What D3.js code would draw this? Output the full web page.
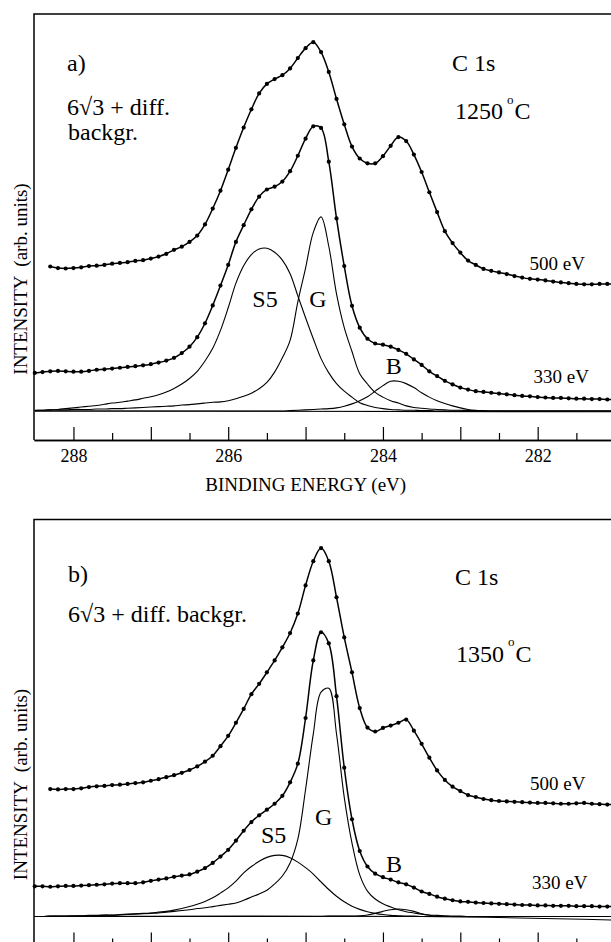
<!DOCTYPE html>
<html>
<head>
<meta charset="utf-8">
<script src="https://cdnjs.cloudflare.com/ajax/libs/d3/7.8.5/d3.min.js"></script>
<style>
  body { margin: 0; background: #fff; }
  svg { display: block; background: #fff; }
  text { font-family: "Liberation Serif", "Times New Roman", serif; fill: #000; }
  .frame { fill: none; stroke: #000; stroke-width: 1.5; }
  .curve { fill: none; stroke: #000; stroke-width: 1.5; }
  .fit { fill: none; stroke: #000; stroke-width: 1.1; }
  .dot { fill: #000; }
</style>
</head>
<body>
<div id="chart"></div>
<script>
//C 1s core level spectra, two annealing temperatures, two photon energies each

// binding energy of every sampled point (eV)
var energy = [
  288.5, 288.4, 288.3, 288.2, 288.1, 288.0, 287.9, 287.8, 287.7, 287.6,
  287.5, 287.4, 287.3, 287.2, 287.1, 287.0, 286.9, 286.8, 286.7, 286.6,
  286.5, 286.4, 286.3, 286.2, 286.1, 286.0, 285.9, 285.8, 285.7, 285.6,
  285.5, 285.4, 285.3, 285.2, 285.1, 285.0, 284.9, 284.8, 284.7, 284.6,
  284.5, 284.4, 284.3, 284.2, 284.1, 284.0, 283.9, 283.8, 283.7, 283.6,
  283.5, 283.4, 283.3, 283.2, 283.1, 283.0, 282.9, 282.8, 282.7, 282.6,
  282.5, 282.4, 282.3, 282.2, 282.1, 282.0, 281.9, 281.8, 281.7, 281.6,
  281.5, 281.4, 281.3, 281.2, 281.1, 281.0
];

// a) 1250 C
var a500 = [
  null, null, 36.4, 36.0, 35.9, 36.0, 36.2, 36.5, 36.6, 36.8,
  37.1, 37.3, 37.5, 37.8, 38.0, 38.4, 38.9, 39.6, 40.6, 41.4,
  42.6, 44.2, 47.0, 51.0, 55.5, 60.8, 66.3, 71.4, 76.0, 80.0,
  82.4, 83.6, 84.6, 86.3, 88.9, 91.4, 92.9, 90.4, 85.4, 78.6,
  72.2, 66.6, 63.6, 62.4, 62.4, 64.2, 66.8, 69.0, 68.0, 64.6,
  60.2, 55.1, 50.1, 45.3, 42.3, 39.9, 37.9, 36.8, 35.8, 35.3,
  34.9, 34.5, 34.0, 33.6, 33.3, 33.1, 32.9, 32.6, 32.4, 32.2,
  32.0, 31.9, 31.9, 32.0, 32.0, 32.0
];
var a330 = [
  9.6, 9.8, 10.0, 10.1, 10.0, 9.9, 9.9, 10.1, 10.4, 10.5,
  10.7, 10.9, 11.1, 11.3, 11.5, 11.8, 12.2, 12.7, 13.4, 14.6,
  16.2, 18.6, 22.1, 26.6, 31.6, 36.8, 42.6, 46.8, 50.8, 54.0,
  55.8, 56.5, 57.8, 60.4, 64.3, 68.6, 71.7, 71.3, 62.8, 48.5,
  36.5, 26.5, 21.0, 18.2, 17.0, 16.7, 16.2, 15.4, 14.4, 13.0,
  11.6, 10.0, 8.8, 7.6, 6.7, 5.9, 5.4, 5.0, 4.8, 4.6,
  4.4, 4.2, 4.0, 3.8, 3.7, 3.5, 3.4, 3.3, 3.3, 3.2,
  3.1, 3.1, 3.0, 3.0, 2.9, 2.9
];
var aS5 = [
  0.1, 0.2, 0.3, 0.4, 0.6, 0.8, 1.0, 1.2, 1.4, 1.7,
  2.0, 2.2, 2.5, 2.8, 3.2, 3.6, 4.1, 4.8, 5.7, 6.8,
  8.2, 10.0, 12.6, 15.8, 20.3, 26.0, 32.2, 36.6, 39.4, 40.8,
  41.0, 40.0, 38.0, 34.6, 29.0, 23.5, 18.2, 13.2, 9.6, 6.9,
  5.0, 3.5, 2.1, 1.4, 0.9, 0.6, 0.4, 0.3, 0.2, 0.2,
  0.1, 0.1, 0, 0, 0, 0, 0, 0, 0, 0,
  0, 0, 0, 0, 0, 0, 0, 0, 0, 0,
  0, 0, 0, 0, 0, 0
];
var aG = [
  0.2, 0.2, 0.3, 0.3, 0.3, 0.4, 0.4, 0.4, 0.5, 0.5,
  0.6, 0.6, 0.7, 0.8, 0.9, 1.0, 1.1, 1.2, 1.3, 1.5,
  1.6, 1.8, 2.0, 2.2, 2.3, 2.6, 3.1, 3.7, 4.5, 5.6,
  7.2, 9.8, 13.4, 17.8, 27.5, 36.0, 45.0, 48.9, 41.5, 29.5,
  21.0, 15.0, 9.4, 6.8, 4.7, 3.5, 2.6, 2.0, 1.3, 0.9,
  0.7, 0.5, 0.4, 0.3, 0.2, 0.2, 0.1, 0.1, 0, 0,
  0, 0, 0, 0, 0, 0, 0, 0, 0, 0,
  0, 0, 0, 0, 0, 0
];
var aB = [
  0, 0, 0, 0, 0, 0, 0, 0, 0, 0,
  0, 0, 0, 0, 0, 0, 0, 0, 0, 0,
  0, 0, 0, 0, 0, 0, 0, 0, 0, 0,
  0, 0, 0, 0.1, 0.2, 0.3, 0.4, 0.5, 0.6, 0.8,
  1.2, 1.8, 2.6, 3.6, 5.0, 6.4, 7.5, 7.5, 6.9, 5.9,
  4.6, 3.5, 2.6, 1.9, 1.3, 0.8, 0.4, 0.2, 0.1, 0,
  0, 0, 0, 0, 0, 0, 0, 0, 0, 0,
  0, 0, 0, 0, 0, 0
];
// flat background under the fitted components
var aBgEnergy = [288.5, 281.0];
var aBackground = [0, -0.2];

// b) 1350 C
var b500 = [
  null, null, 32.1, 32.0, 32.1, 32.1, 32.3, 32.6, 32.8, 32.9,
  33.1, 33.2, 33.4, 33.6, 33.8, 34.2, 34.6, 35.1, 35.6, 36.2,
  36.9, 37.8, 39.0, 40.5, 42.9, 45.5, 48.8, 52.3, 56.0, 58.6,
  61.5, 64.5, 67.8, 71.4, 76.3, 83.4, 89.5, 92.8, 89.5, 80.4,
  70.3, 61.5, 52.5, 47.6, 46.6, 47.5, 48.1, 48.8, 49.6, 46.8,
  43.5, 40.0, 36.8, 34.4, 32.7, 31.6, 30.6, 30.1, 29.6, 29.3,
  29.1, 29.0, 28.9, 28.8, 28.7, 28.6, 28.6, 28.5, 28.4, 28.4,
  28.5, 28.6, 28.4, 28.3, 28.2, 28.2
];
var b330 = [
  7.6, 7.6, 7.5, 7.6, 7.7, 7.7, 7.8, 7.9, 8.0, 8.1,
  8.3, 8.4, 8.4, 8.4, 8.6, 9.0, 9.3, 9.6, 10.0, 10.3,
  10.6, 11.3, 12.2, 13.5, 15.1, 16.8, 19.1, 21.6, 23.8, 25.5,
  26.9, 28.4, 30.4, 33.8, 38.5, 50.0, 64.5, 71.6, 68.8, 55.5,
  37.5, 24.5, 16.5, 12.6, 10.8, 9.9, 9.3, 8.6, 8.1, 7.3,
  6.3, 5.7, 5.0, 4.5, 4.1, 3.8, 3.7, 3.5, 3.4, 3.3,
  3.2, 3.1, 3.0, 2.9, 2.9, 2.8, 2.8, 2.7, 2.7, 2.7,
  2.6, 2.6, 2.6, 2.5, 2.5, 2.5
];
var bS5 = [
  0, 0, 0.1, 0.1, 0.1, 0.2, 0.2, 0.3, 0.3, 0.4,
  0.4, 0.5, 0.6, 0.7, 0.8, 0.9, 1.1, 1.3, 1.6, 2.0,
  2.5, 3.1, 3.8, 4.7, 5.9, 7.2, 8.9, 11.0, 12.6, 13.9,
  14.9, 15.4, 15.4, 14.8, 13.7, 12.3, 10.7, 8.7, 6.8, 5.1,
  3.7, 2.6, 1.8, 1.2, 0.8, 0.5, 0.3, 0.2, 0.1, 0.1,
  0, 0, 0, 0, 0, 0, 0, 0, 0, 0,
  0, 0, 0, 0, 0, 0, 0, 0, 0, 0,
  0, 0, 0, 0, 0, 0
];
var bG = [
  0, 0, 0.1, 0.1, 0.1, 0.1, 0.2, 0.2, 0.2, 0.3,
  0.3, 0.4, 0.5, 0.6, 0.7, 0.8, 0.9, 1.1, 1.3, 1.5,
  1.7, 2.0, 2.2, 2.5, 2.8, 3.1, 3.4, 4.1, 4.9, 5.7,
  6.6, 8.2, 10.2, 13.5, 19.5, 32.0, 46.0, 56.5, 57.5, 46.0,
  30.0, 18.5, 10.5, 6.4, 4.4, 3.2, 2.4, 1.7, 1.2, 0.9,
  0.6, 0.4, 0.3, 0.2, 0.1, 0.1, 0, 0, 0, 0,
  0, 0, 0, 0, 0, 0, 0, 0, 0, 0,
  0, 0, 0, 0, 0, 0
];
var bB = [
  0, 0, 0, 0, 0, 0, 0, 0, 0, 0,
  0, 0, 0, 0, 0, 0, 0, 0, 0, 0,
  0, 0, 0, 0, 0, 0, 0, 0, 0, 0,
  0, 0, 0, 0, 0, 0, 0, 0, 0.1, 0.1,
  0.1, 0.1, 0.2, 0.4, 0.8, 1.3, 1.7, 1.9, 1.7, 1.3,
  0.7, 0.3, 0.1, 0, 0, 0, 0, 0, 0, 0,
  0, 0, 0, 0, 0, 0, 0, 0, 0, 0,
  0, 0, 0, 0, 0, 0
];
// background dips a little at the low energy end
var bBgEnergy = [288.5, 283.5, 281.0];
var bBackground = [0, 0, -0.9];

// axis ticks
var majorTicks = [288, 287, 286, 285, 284, 283, 282, 281];
var minorTicks = [287.5, 286.5, 285.5, 284.5, 283.5, 282.5, 281.5];
var tickLabels = [288, 286, 284, 282];

var width = 611, height = 942;
var panelH = 426;  // frame top to axis line
var serif = '"Liberation Serif", "Times New Roman", serif';

var svg = d3.select("#chart").append("svg")
  .attr("width", width)
  .attr("height", height)
  .style("font-family", serif);

// frame runs past the right edge of the picture
var x = d3.scaleLinear().domain([288.51, 280.6]).range([34, 646]);

var panels = [
  {
    top: 14, series500: a500, series330: a330, s5: aS5, g: aG, b: aB,
    bgE: aBgEnergy, bg: aBackground, tickText: true,
    name: "a)", nameAt: [67, 71],
    sample: ["6\u221A3 + diff.", "backgr."], sampleAt: [[67, 115], [68, 140]],
    line: "C 1s", lineAt: [452, 71],
    temp: "1250", tempAt: [455, 119],
    lbl500At: [529.5, 270], lbl330At: [533.5, 382.7],
    s5At: [252.3, 307], gAt: [309.3, 307], bAt: [385.7, 374],
    yLabelAt: 279
  },
  {
    // the axis labels of b) fall below the picture
    top: 519.5, series500: b500, series330: b330, s5: bS5, g: bG, b: bB,
    bgE: bBgEnergy, bg: bBackground, tickText: false,
    name: "b)", nameAt: [68, 582],
    sample: ["6\u221A3 + diff. backgr."], sampleAt: [[68, 621.5]],
    line: "C 1s", lineAt: [455, 585],
    temp: "1350", tempAt: [456, 661.5],
    lbl500At: [530, 790], lbl330At: [532, 889],
    s5At: [261, 843], gAt: [315, 825], bAt: [386, 871.7],
    yLabelAt: 784.5
  }
];

function addText(g, str, at, size) {
  return g.append("text")
    .attr("x", at[0])
    .attr("y", at[1])
    .style("font-family", serif)
    .style("font-size", size + "px")
    .text(str);
}

function drawPanel(p) {
  var axisY = p.top + panelH;
  var y = d3.scaleLinear().domain([-7.3, 100]).range([axisY, p.top]);
  var g = svg.append("g").attr("class", "panel");

  var line = d3.line()
    .defined(function(d) { return d[1] != null; })
    .x(function(d) { return x(d[0]); })
    .y(function(d) { return y(d[1]); })
    .curve(d3.curveCatmullRom);

  // frame: left and top only, right side is cut off
  g.append("path")
    .attr("class", "frame")
    .attr("d", "M" + x.range()[0] + "," + axisY + "V" + p.top + "H" + (width + 40));

  // background and fitted components
  g.append("path").attr("class", "fit").attr("d", line(d3.zip(p.bgE, p.bg)));
  [p.s5, p.g, p.b].forEach(function(s) {
    g.append("path").attr("class", "fit").attr("d", line(d3.zip(energy, s)));
  });

  // measured spectra: fit line + data points
  [p.series500, p.series330].forEach(function(s) {
    var pts = d3.zip(energy, s);
    g.append("path").attr("class", "curve").attr("d", line(pts));
    g.selectAll(null)
      .data(pts.filter(function(d) { return d[1] != null; }))
      .enter().append("circle")
      .attr("class", "dot")
      .attr("cx", function(d) { return x(d[0]); })
      .attr("cy", function(d) { return y(d[1]); })
      .attr("r", 2.1);
  });

  // x axis, ticks point up into the plot
  var minorAxis = g.append("g")
    .attr("transform", "translate(0," + axisY + ")")
    .call(d3.axisBottom(x).tickValues(minorTicks).tickSize(-7).tickSizeOuter(0).tickFormat(""));
  var majorAxis = g.append("g")
    .attr("transform", "translate(0," + axisY + ")")
    .call(d3.axisBottom(x).tickValues(majorTicks).tickSize(-13).tickSizeOuter(0).tickPadding(9)
      .tickFormat(function(d) { return p.tickText && tickLabels.indexOf(d) >= 0 ? d : ""; }));
  [minorAxis, majorAxis].forEach(function(a) {
    a.selectAll("line").attr("stroke", "#000").attr("stroke-width", 1.2);
    a.select(".domain").attr("stroke", "#000").attr("stroke-width", 1.5);
  });
  if (p.tickText) {
    majorAxis.selectAll("text")
      .attr("fill", "#000")
      .style("font-family", serif)
      .style("font-size", "18px");
  } else {
    majorAxis.selectAll("text").remove();
  }

  // y axis title
  g.append("text")
    .attr("transform", "translate(27," + p.yLabelAt + ") rotate(-90)")
    .style("text-anchor", "middle")
    .style("white-space", "pre")
    .style("font-family", serif)
    .style("font-size", "19px")
    .text("INTENSITY  (arb. units)");

  // annotations
  addText(g, p.name, p.nameAt, 24);
  p.sample.forEach(function(s, i) { addText(g, s, p.sampleAt[i], 24); });
  addText(g, p.line, p.lineAt, 24);
  var t = addText(g, p.temp, p.tempAt, 24);
  t.append("tspan").attr("dx", 4).attr("dy", -15.5).style("font-size", "13px").text("o");
  t.append("tspan").attr("dx", 1).attr("dy", 15.5).text("C");

  addText(g, "500 eV", p.lbl500At, 19);
  addText(g, "330 eV", p.lbl330At, 19);
  addText(g, "S5", p.s5At, 24);
  addText(g, "G", p.gAt, 24);
  addText(g, "B", p.bAt, 24);
}

panels.forEach(drawPanel);

svg.append("text")
  .attr("x", 305.7)
  .attr("y", 490.7)
  .style("text-anchor", "middle")
  .style("font-family", serif)
  .style("font-size", "19px")
  .text("BINDING ENERGY (eV)");
</script>
</body>
</html>
